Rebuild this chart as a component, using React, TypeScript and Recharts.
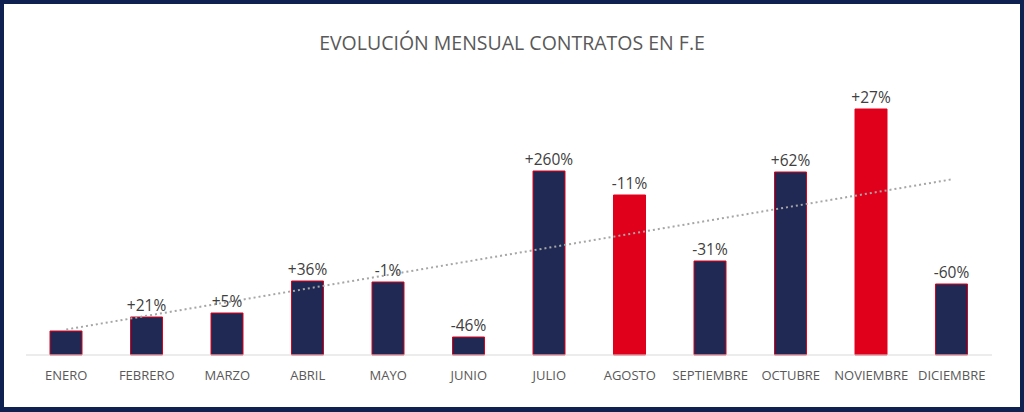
import { Bar, Cell, ComposedChart, LabelList, Line, XAxis, YAxis } from 'recharts';

const MONTHS = [
  'ENERO',
  'FEBRERO',
  'MARZO',
  'ABRIL',
  'MAYO',
  'JUNIO',
  'JULIO',
  'AGOSTO',
  'SEPTIEMBRE',
  'OCTUBRE',
  'NOVIEMBRE',
  'DICIEMBRE',
];
const CONTRACTS = [74, 88, 92, 124, 123, 68, 234, 210, 144, 233, 296, 121];
const CHANGE_LABELS = ['', '+21%', '+5%', '+36%', '-1%', '-46%', '+260%', '-11%', '-31%', '+62%', '+27%', '-60%'];
const HIGHLIGHTED = ['AGOSTO', 'NOVIEMBRE'];

const NAVY = '#1f2953';
const RED = '#e0001b';

// linear trendline (least squares), like the spreadsheet one
function linearTrend(values: number[]) {
  const n = values.length;
  const mx = (n - 1) / 2;
  const my = values.reduce((s, v) => s + v, 0) / n;
  let num = 0;
  let den = 0;
  values.forEach((v, i) => {
    num += (i - mx) * (v - my);
    den += (i - mx) * (i - mx);
  });
  const slope = num / den;
  return values.map((_, i) => my + slope * (i - mx));
}

const trend = linearTrend(CONTRACTS);

const data = MONTHS.map((month, i) => ({
  month,
  contracts: CONTRACTS[i],
  label: CHANGE_LABELS[i],
  trend: trend[i],
}));

export default function App() {
  return (
    <div
      style={{
        position: 'fixed',
        left: 0,
        top: 0,
        width: 1024,
        height: 412,
        background: '#0e2150',
        fontFamily: '"Open Sans", sans-serif',
      }}
    >
      <div style={{ position: 'absolute', left: 4, top: 4, right: 4, bottom: 5, background: '#fff' }} />
      <div
        style={{
          position: 'absolute',
          left: 0,
          width: 1024,
          top: 33,
          height: 20,
          lineHeight: '20px',
          textAlign: 'center',
          fontSize: 19.5,
          color: '#595959',
        }}
      >
        EVOLUCIÓN MENSUAL CONTRATOS EN F.E
      </div>
      <div style={{ position: 'absolute', left: 0, top: 0 }}>
        <ComposedChart
          width={1024}
          height={412}
          data={data}
          margin={{ top: 105, right: 32, bottom: 27, left: 26 }}
          barCategoryGap={0}
        >
          <XAxis
            dataKey="month"
            height={30}
            interval={0}
            tickLine={false}
            tickMargin={10}
            axisLine={{ stroke: '#d9d9d9' }}
            tick={{ fill: '#595959', fontSize: 13, fontFamily: '"Open Sans", sans-serif' }}
          />
          <YAxis hide domain={[50, 300]} />
          <Bar dataKey="contracts" barSize={32} stroke={RED} strokeWidth={1} isAnimationActive={false}>
            {data.map((d) => (
              <Cell key={d.month} fill={HIGHLIGHTED.includes(d.month) ? RED : NAVY} />
            ))}
            <LabelList
              dataKey="label"
              position="top"
              offset={6}
              fill="#404040"
              fontSize={15.5}
              fontFamily='"Open Sans", sans-serif'
            />
          </Bar>
          <Line
            dataKey="trend"
            stroke="#a6a6a6"
            strokeWidth={2}
            strokeDasharray="2 3"
            dot={false}
            activeDot={false}
            isAnimationActive={false}
          />
        </ComposedChart>
      </div>
    </div>
  );
}
